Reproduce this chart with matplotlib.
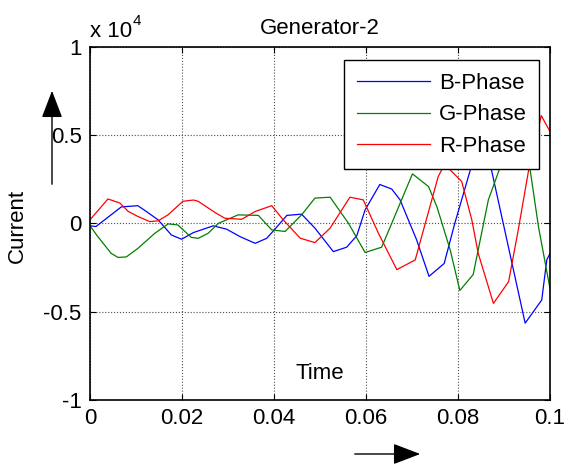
import numpy as np
import matplotlib
matplotlib.use("Agg")
import matplotlib.pyplot as plt

plt.rcParams['font.family'] = ['Liberation Sans', 'DejaVu Sans']

# data (current in units of 1e4)
t_b = [0, 0.0013, 0.0068, 0.0104, 0.0122, 0.0148, 0.0177, 0.0199, 0.0225, 0.0268,
       0.0297, 0.0326, 0.0359, 0.0384, 0.0402, 0.0428, 0.046, 0.0489, 0.0529, 0.0558,
       0.058, 0.0598, 0.063, 0.0656, 0.0674, 0.071, 0.0737, 0.077, 0.0793, 0.0828,
       0.0851, 0.0873, 0.0946, 0.0982, 0.0993, 0.1]
i_b = [-0.014, -0.018, 0.093, 0.10, 0.068, 0.02, -0.066, -0.09, -0.052, -0.014,
       -0.033, -0.075, -0.113, -0.085, -0.033, 0.045, 0.052, -0.027, -0.16, -0.135,
       -0.07, 0.076, 0.22, 0.194, 0.133, -0.093, -0.30, -0.227, 0.0, 0.313,
       0.43, 0.30, -0.565, -0.434, -0.207, -0.17]

t_g = [0, 0.0017, 0.0046, 0.0061, 0.0079, 0.0104, 0.0141, 0.017, 0.0191, 0.022,
       0.0235, 0.0257, 0.0279, 0.0322, 0.0366, 0.0395, 0.0424, 0.046, 0.0489, 0.0522,
       0.0562, 0.0598, 0.0634, 0.0656, 0.0674, 0.0701, 0.0736, 0.0754, 0.0783, 0.0804,
       0.0833, 0.0866, 0.0891, 0.0913, 0.0957, 0.0975, 0.1]
i_g = [-0.014, -0.075, -0.17, -0.193, -0.19, -0.142, -0.056, -0.003, -0.009, -0.079,
       -0.085, -0.056, 0.0, 0.048, 0.045, -0.037, -0.046, 0.048, 0.143, 0.148,
       0.0, -0.165, -0.135, 0.0, 0.113, 0.28, 0.208, 0.095, -0.15, -0.38,
       -0.29, 0.133, 0.313, 0.46, 0.30, -0.02, -0.37]

t_r = [0, 0.0039, 0.0065, 0.0083, 0.0104, 0.013, 0.0148, 0.017, 0.0202, 0.0225,
       0.0235, 0.0272, 0.0293, 0.033, 0.0359, 0.0395, 0.042, 0.0457, 0.0489, 0.0522,
       0.0565, 0.0594, 0.0627, 0.0667, 0.0707, 0.0757, 0.0768, 0.0775, 0.0779, 0.0808,
       0.083, 0.0844, 0.0877, 0.091, 0.0931, 0.0953, 0.0981, 0.1]
i_r = [0.02, 0.138, 0.115, 0.068, 0.039, 0.01, 0.014, 0.049, 0.125, 0.132,
       0.125, 0.061, 0.029, 0.023, 0.067, 0.10, 0.02, -0.084, -0.109, -0.027,
       0.148, 0.133, -0.056, -0.262, -0.207, 0.265, 0.32, 0.37, 0.313, 0.237,
       0.02, -0.17, -0.453, -0.33, -0.037, 0.293, 0.61, 0.52]

xticks = [0, 0.02, 0.04, 0.06, 0.08, 0.1]
xticklabels = ['0', '0.02', '0.04', '0.06', '0.08', '0.1']
yticks = [-1, -0.5, 0, 0.5, 1]
yticklabels = ['-1', '-0.5', '0', '0.5', '1']

fs = 16
fig = plt.figure(figsize=(5.64, 4.65), dpi=100)
ax = fig.add_axes([90/564, 1 - 400/465, 460/564, 353.3/465])

ax.plot(t_b, i_b, color='#0000ff', lw=0.9, label='B-Phase')
ax.plot(t_g, i_g, color='#008000', lw=0.9, label='G-Phase')
ax.plot(t_r, i_r, color='#ff0000', lw=0.9, label='R-Phase')

ax.set_xlim(0, 0.1)
ax.set_ylim(-1, 1)
ax.set_xticks(xticks)
ax.set_xticklabels(xticklabels)
ax.set_yticks(yticks)
ax.set_yticklabels(yticklabels)
ax.tick_params(direction='in', top=True, right=True, labelsize=fs, length=4, pad=6)
ax.grid(True, linestyle=':', color='0.3', lw=0.8)
for s in ax.spines.values():
    s.set_linewidth(1.2)

ax.set_title('Generator-2', fontsize=fs, pad=9)
ax.text(0.5, 0.076, 'Time', transform=ax.transAxes, ha='center', va='center', fontsize=fs)
fig.text(17/564, 1 - 226/465, 'Current', rotation=90, ha='center', va='center', fontsize=fs)
fig.text(90/564, 1 - 37/465, 'x 10', ha='left', va='baseline', fontsize=fs)
fig.text(133/564, 1 - 25/465, '4', ha='left', va='baseline', fontsize=11)

leg = ax.legend(loc='upper right', bbox_to_anchor=(0.976, 0.961), fontsize=fs,
                fancybox=False, framealpha=1, edgecolor='black',
                handlelength=3.3, handletextpad=0.4, labelspacing=0.48,
                borderpad=0.55, borderaxespad=0)
leg.get_frame().set_linewidth(1.0)

ax.annotate('', xy=(52, 377), xytext=(52, 278), xycoords='figure pixels',
            arrowprops=dict(arrowstyle='-|>,head_length=1.7,head_width=0.65',
                            color='black', lw=1))
ax.annotate('', xy=(423, 11), xytext=(352, 11), xycoords='figure pixels',
            arrowprops=dict(arrowstyle='-|>,head_length=1.7,head_width=0.65',
                            color='black', lw=1))

fig.savefig('out.png', dpi=100)
